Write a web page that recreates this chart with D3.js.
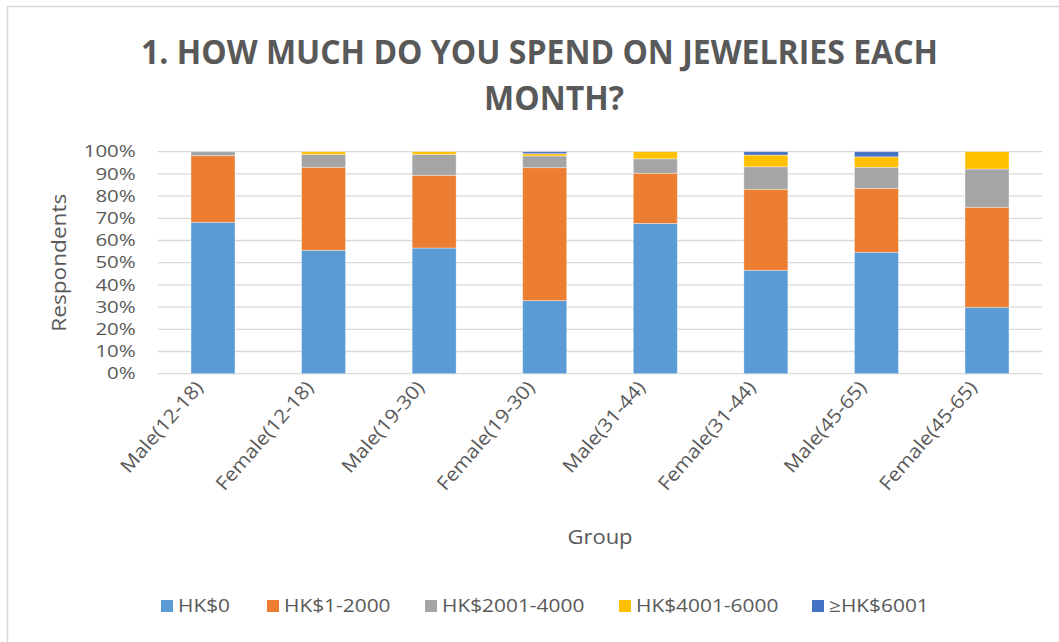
<!DOCTYPE html>
<html>
<head>
<meta charset="utf-8">
<script src="https://cdn.jsdelivr.net/npm/d3@7"></script>
<style>
  html, body { margin: 0; padding: 0; background: #fff; }
  svg { display: block; }
  text { font-family: "Open Sans", "DejaVu Sans", sans-serif; fill: #595959; }
</style>
</head>
<body>
<svg id="chart" width="1059" height="642"></svg>
<script>
// Monthly jewelry spending by respondent group (percent of respondents)
const groups = ["Male(12-18)", "Female(12-18)", "Male(19-30)", "Female(19-30)",
                "Male(31-44)", "Female(31-44)", "Male(45-65)", "Female(45-65)"];
const seriesNames = ["HK$0", "HK$1-2000", "HK$2001-4000", "HK$4001-6000", "≥HK$6001"];
const hk0      = [68.2, 55.6, 56.6, 32.9, 67.7, 46.6, 54.7, 29.9];
const hk1_2000 = [30.0, 37.4, 32.8, 59.9, 22.6, 36.5, 28.8, 45.1];
const hk2001_4000 = [1.8, 5.7, 9.4, 5.3, 6.5, 10.1, 9.5, 17.2];
const hk4001_6000 = [0.0, 1.3, 1.2, 1.0, 3.2, 5.3, 4.7, 7.8];
const hk6001plus  = [0.0, 0.0, 0.0, 0.9, 0.0, 1.5, 2.3, 0.0];
const yTicks = [0, 10, 20, 30, 40, 50, 60, 70, 80, 90, 100];
const titleLines = ["1. HOW MUCH DO YOU SPEND ON JEWELRIES EACH", "MONTH?"];
const colors = ["#5B9BD5", "#ED7D31", "#A5A5A5", "#FFC000", "#4472C4"];

const seriesValues = [hk0, hk1_2000, hk2001_4000, hk4001_6000, hk6001plus];
const rows = groups.map((g, i) => {
  const r = { group: g };
  seriesNames.forEach((s, j) => { r[s] = seriesValues[j][i]; });
  return r;
});

const svg = d3.select("#chart");

// horizontal stretch helper so the sans face matches the wider original lettering
function stretch(sel, k) {
  sel.each(function () {
    const w = this.getComputedTextLength();
    this.setAttribute("textLength", w * k);
    this.setAttribute("lengthAdjust", "spacingAndGlyphs");
  });
}

// chart frame
svg.append("rect")
  .attr("x", 7.5).attr("y", 6.5)
  .attr("width", 1070).attr("height", 660)
  .attr("fill", "#fff").attr("stroke", "#d9d9d9").attr("stroke-width", 1.5);

const plot = { left: 157.7, right: 1042.3, top: 151.7, bottom: 373.7 };

const x = d3.scaleBand()
  .domain(groups)
  .range([plot.left, plot.right])
  .paddingInner(0.602)
  .paddingOuter(0.301);

const y = d3.scaleLinear().domain([0, 100]).range([plot.bottom, plot.top]);

// gridlines
svg.append("g")
  .selectAll("line")
  .data(yTicks)
  .join("line")
  .attr("x1", plot.left).attr("x2", plot.right)
  .attr("y1", d => y(d)).attr("y2", d => y(d))
  .attr("stroke", "#d9d9d9").attr("stroke-width", 1.3);

// y axis labels
const yAxis = svg.append("g")
  .attr("transform", `translate(${plot.left - 22},0)`)
  .call(d3.axisLeft(y).tickValues(yTicks).tickFormat(d => d + "%").tickSize(0).tickPadding(0));
yAxis.select(".domain").remove();
yAxis.selectAll("text")
  .style("font-family", '"Open Sans", sans-serif')
  .style("font-size", "16.5px")
  .attr("fill", "#595959")
  .call(stretch, 1.24);

// stacked bars
const stack = d3.stack().keys(seriesNames);
const layers = stack(rows);
svg.append("g")
  .selectAll("g")
  .data(layers)
  .join("g")
  .attr("fill", (d, i) => colors[i])
  .selectAll("rect")
  .data(d => d)
  .join("rect")
  .attr("x", d => x(d.data.group))
  .attr("width", x.bandwidth())
  .attr("y", d => y(d[1]))
  .attr("height", d => Math.max(0, y(d[0]) - y(d[1])))
  .attr("stroke", "#ffffff").attr("stroke-opacity", 0.45).attr("stroke-width", 0.8);

// x axis category labels, rotated
svg.append("g")
  .selectAll("text")
  .data(groups)
  .join("text")
  .attr("transform", d => `translate(${x(d) + x.bandwidth() / 2 - 14},${plot.bottom + 10}) rotate(-49)`)
  .attr("text-anchor", "end")
  .attr("dy", "0.35em")
  .style("font-size", "19px")
  .text(d => d)
  .call(stretch, 1.1);

// axis titles
svg.append("text")
  .attr("transform", `translate(66,${(plot.top + plot.bottom) / 2}) rotate(-90)`)
  .attr("text-anchor", "middle")
  .style("font-size", "20px")
  .text("Respondents")
  .call(stretch, 1.13);

svg.append("text")
  .attr("x", 600).attr("y", 544)
  .attr("text-anchor", "middle")
  .style("font-size", "20px")
  .text("Group")
  .call(stretch, 1.1);

// two-line bold title, condensed to the title width
const title = svg.append("text")
  .attr("text-anchor", "middle")
  .style("font-size", "34px").style("font-weight", 700);
const line1 = title.append("tspan").attr("x", 539.5).attr("y", 64).text(titleLines[0]);
const line2 = title.append("tspan").attr("x", 554).attr("y", 110).text(titleLines[1]);
const k = 797 / line1.node().getComputedTextLength();
line1.call(stretch, k);
line2.call(stretch, k);

// legend
const legendX = [161, 267, 425, 619, 812];
const lg = svg.append("g")
  .selectAll("g")
  .data(seriesNames)
  .join("g")
  .attr("transform", (d, i) => `translate(${legendX[i]},606)`);
lg.append("rect")
  .attr("x", 0).attr("y", -6)
  .attr("width", 12).attr("height", 12)
  .attr("fill", (d, i) => colors[i]);
lg.append("text")
  .attr("x", 17).attr("dy", "0.36em")
  .style("font-size", "18px")
  .text(d => d)
  .call(stretch, 1.16);
</script>
</body>
</html>
